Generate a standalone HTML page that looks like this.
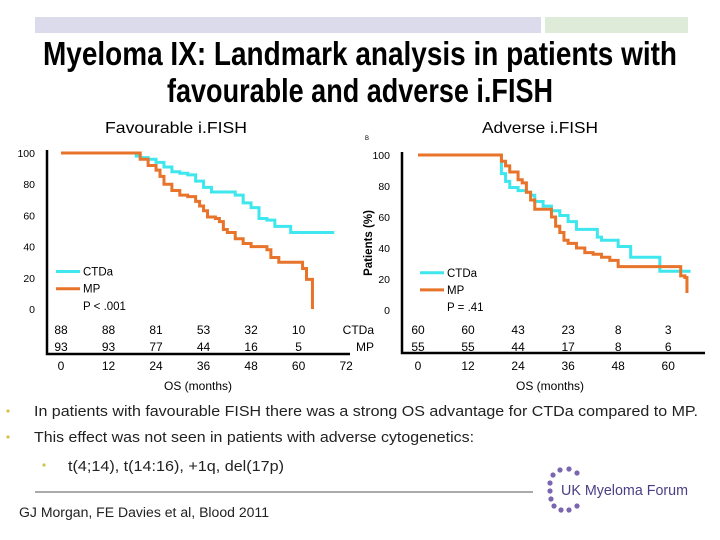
<!DOCTYPE html>
<html><head><meta charset="utf-8"><style>
html,body{margin:0;padding:0;background:#fff;}
svg{display:block;font-family:"Liberation Sans",sans-serif;}
</style></head><body>
<svg id="s" width="720" height="540" viewBox="0 0 720 540" xmlns="http://www.w3.org/2000/svg">
<rect x="35" y="17" width="506" height="16" fill="#dcdbec"/>
<rect x="545" y="17" width="143" height="16" fill="#dfebd9"/>
<text x="360" y="65" text-anchor="middle" font-size="33" font-weight="bold" textLength="634" lengthAdjust="spacingAndGlyphs">Myeloma IX: Landmark analysis in patients with</text>
<text x="360" y="102" text-anchor="middle" font-size="33" font-weight="bold" textLength="386" lengthAdjust="spacingAndGlyphs">favourable and adverse i.FISH</text>
<text x="105" y="133" font-size="16" textLength="142" lengthAdjust="spacingAndGlyphs">Favourable i.FISH</text>
<text x="482" y="133" font-size="16" textLength="116" lengthAdjust="spacingAndGlyphs">Adverse i.FISH</text>
<text x="365" y="140" font-size="6">B</text>
<g id="left"></g>
<g id="right"></g>
<g font-size="14.5" fill="#222">
<circle cx="8" cy="411" r="1.6" fill="#d4c34a"/>
<text x="34" y="416" textLength="664" lengthAdjust="spacingAndGlyphs">In patients with favourable FISH there was a strong OS advantage for CTDa compared to MP.</text>
<circle cx="8" cy="437" r="1.6" fill="#d4c34a"/>
<text x="34" y="442" textLength="440" lengthAdjust="spacingAndGlyphs">This effect was not seen in patients with adverse cytogenetics:</text>
<circle cx="44" cy="465" r="1.6" fill="#d4c34a"/>
<text x="68" y="471" textLength="216" lengthAdjust="spacingAndGlyphs">t(4;14), t(14:16), +1q, del(17p)</text>
</g>
<line x1="35" y1="492" x2="533" y2="492" stroke="#555" stroke-width="1"/>
<text x="19" y="517" font-size="13.5" fill="#222" textLength="250" lengthAdjust="spacingAndGlyphs">GJ Morgan, FE Davies et al, Blood 2011</text>
<g id="logo"></g>
<text x="561" y="495" font-size="15" fill="#4b3d86" textLength="127" lengthAdjust="spacingAndGlyphs">UK Myeloma Forum</text>
</svg>
<script>
// Left chart (favourable)
const leftTicks = [0,12,24,36,48,60,72];
const leftYTicks = [0,20,40,60,80,100];
const leftCtdaT = [0,18,19,20,22,24,26,28,30,32,34,36,38,42,44,46,48,50,52,54,56,58,69];
const leftCtdaS = [100,100,98,97,96,94,91,88,87,86,82,78,75,75,73,68,65,58,57,53,53,49,49];
const leftMpT = [0,18,20,22,24,25,26,28,30,32,34,35,36,37,39,40,41,42,44,46,48,50,52,53,55,59,61,62,63.5,63.5];
const leftMpS = [100,100,96,92,89,85,80,76,73,72,69,66,63,59,58,56,51,49,45,42,40,40,38,33,30,30,26,19,19,0];
const leftRiskCtda = ["88","88","81","53","32","10"];
const leftRiskMp = ["93","93","77","44","16","5"];
// Right chart (adverse)
const rightTicks = [0,12,24,36,48,60];
const rightCtdaT = [0,19,20,21,22,24,26,27,28,30,32,34,36,38,42,43,44,46,48,50,51,58,58,65];
const rightCtdaS = [100,100,88,83,79,77,76,74,70,67,64,61,57,52,52,47,45,45,41,41,34,34,25,24];
const rightMpT = [0,19,20,21,22,24,25,26,27,28,31,32,33,34,35,36,38,40,42,44,46,48,62,63,64,64.5];
const rightMpS = [100,100,96,93,89,84,82,76,71,65,65,60,54,50,45,43,40,37,36,34,32,28,28,22,21,11];
const rightRiskCtda = ["60","60","43","23","8","3"];
const rightRiskMp = ["55","55","44","17","8","6"];

const NS="http://www.w3.org/2000/svg";
function mk(parent,tag,attrs,txt){const e=document.createElementNS(NS,tag);for(const k in attrs)e.setAttribute(k,attrs[k]);if(txt!==undefined)e.textContent=txt;parent.appendChild(e);return e;}
function stepPath(T,S,xs,ys){let d="M"+xs(T[0])+","+ys(S[0]);for(let i=1;i<T.length;i++){d+=" H"+xs(T[i])+" V"+ys(S[i]);}return d;}

function chart(g,cfg){
  const xs=t=>cfg.x0+t*cfg.px, ys=v=>cfg.y0-v*(cfg.y0-cfg.y100)/100;
  const ax=mk(g,"path",{d:`M${cfg.axX},${cfg.y100-3} V${cfg.axB} H${cfg.axR}`,fill:"none",stroke:"#000","stroke-width":"2.5"});
  
  
  leftYTicks.forEach(v=>{
    const l=mk(g,"text",{x:cfg.axX-12,y:ys(v)+4,"font-size":"10.5","text-anchor":"end"},String(v));
    
    
  });
  cfg.ticks.forEach(t=>{
    const l=mk(g,"text",{x:xs(t),y:370,"font-size":"12","text-anchor":"middle"},String(t));
    
    
  });
  cfg.riskA.forEach((v,i)=>{
    const a=mk(g,"text",{x:xs(i*12),y:cfg.r1,"font-size":"12","text-anchor":"middle"},v);
    
    
    const b=mk(g,"text",{x:xs(i*12),y:cfg.r2,"font-size":"12","text-anchor":"middle"},cfg.riskB[i]);
    
    
  });
  const xt=mk(g,"text",{x:cfg.xtX,y:390,"font-size":"12","text-anchor":"middle"},"OS (months)");
  
  
  const c=mk(g,"path",{d:stepPath(cfg.cT,cfg.cS,xs,ys),fill:"none",stroke:"#3ee6ee","stroke-width":"3"});
  
  
  const m=mk(g,"path",{d:stepPath(cfg.mT,cfg.mS,xs,ys),fill:"none",stroke:"#e8732a","stroke-width":"3"});
  
  
  const L=cfg.leg;
  const l1=mk(g,"line",{x1:L,y1:ys(24),x2:L+24,y2:ys(24),stroke:"#3ee6ee","stroke-width":"3"});
  
  
  const t1=mk(g,"text",{x:L+27,y:ys(24)+4,"font-size":"11.5"},"CTDa");
  
  
  const l2=mk(g,"line",{x1:L,y1:ys(13),x2:L+24,y2:ys(13),stroke:"#e8732a","stroke-width":"3"});
  
  
  const t2=mk(g,"text",{x:L+27,y:ys(13)+4,"font-size":"11.5"},"MP");
  
  
  const p=mk(g,"text",{x:L+27,y:ys(2)+4,"font-size":"11.5"},cfg.p);
  
  
}
chart(document.getElementById('left'),{x0:61,px:3.96,y0:309,y100:153,axX:47,axB:354,axR:350,ticks:leftTicks,riskA:leftRiskCtda,riskB:leftRiskMp,r1:334,r2:351,xtX:198,cT:leftCtdaT,cS:leftCtdaS,mT:leftMpT,mS:leftMpS,leg:56,p:"P < .001"});
chart(document.getElementById('right'),{x0:418,px:4.17,y0:310,y100:155,axX:402,axB:353,axR:705,ticks:rightTicks,riskA:rightRiskCtda,riskB:rightRiskMp,r1:334,r2:351,xtX:550,cT:rightCtdaT,cS:rightCtdaS,mT:rightMpT,mS:rightMpS,leg:420,p:"P = .41"});
const rg=document.getElementById('right');
const yl=mk(rg,"text",{x:0,y:0,"font-size":"11.5","font-weight":"bold","text-anchor":"middle",transform:"translate(372,243) rotate(-90)"},"Patients (%)");


const a1=mk(rg,"text",{x:374,y:334,"font-size":"12","text-anchor":"end"},"CTDa");


const a2=mk(rg,"text",{x:374,y:351,"font-size":"12","text-anchor":"end"},"MP");


const lg=document.getElementById('logo');
[[553,475],[560,470],[569,469],[577,473],[550,483],[550,491],[551,499],[554,506],[561,510],[569,510],[577,506]].forEach(p=>{
  const d=mk(lg,"circle",{cx:p[0],cy:p[1],r:2.6,fill:"#7a66b0"});
  
  
});
</script>
</body></html>
